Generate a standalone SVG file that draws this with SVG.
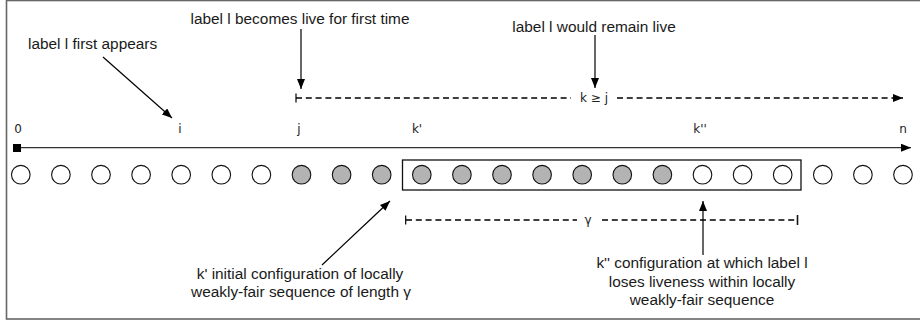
<svg xmlns="http://www.w3.org/2000/svg" width="920" height="325" viewBox="0 0 920 325">
<style>
.lbl{font-family:"Liberation Sans",Arial,sans-serif;font-size:15.4px;fill:#1a1a1a}
.tick{font-family:"DejaVu Sans",sans-serif;font-size:12px;fill:#222}
.w{fill:#fff;stroke:#111;stroke-width:1.1}
.g{fill:#b3b3b3;stroke:#111;stroke-width:1.1}
.ln{stroke:#000;stroke-width:1.2;fill:none}
.dash{stroke:#000;stroke-width:1.3;fill:none;stroke-dasharray:6 3.8}
</style>
<defs>
<marker id="ah" markerUnits="userSpaceOnUse" markerWidth="11" markerHeight="9" refX="10" refY="4" orient="auto">
<path d="M0,0 L10,4 L0,8 z" fill="#000"/>
</marker>
</defs>
<rect x="6.5" y="0.5" width="920" height="318.5" fill="#fff" stroke="#666" stroke-width="1.6"/>

<g id="axis">
<line x1="17" y1="147.7" x2="911" y2="147.7" stroke="#333" stroke-width="1.3" marker-end="url(#ah)"/>
<rect x="13" y="144" width="8" height="8" fill="#000"/>
</g>

<g id="tick-labels" class="tick" text-anchor="middle">
<text x="18" y="133">0</text>
<text x="180" y="133">i</text>
<text x="299" y="133">j</text>
<text x="417" y="133">k'</text>
<text x="700" y="133">k''</text>
<text x="903" y="133">n</text>
</g>

<g id="window"><rect x="402.5" y="160" width="398.5" height="30" fill="none" stroke="#111" stroke-width="1.3"/></g>

<g id="c0"><circle class="w" cx="20.8" cy="174.7" r="9.3"/></g>
<g id="c1"><circle class="w" cx="60.9" cy="174.7" r="9.3"/></g>
<g id="c2"><circle class="w" cx="101" cy="174.7" r="9.3"/></g>
<g id="c3"><circle class="w" cx="141.1" cy="174.7" r="9.3"/></g>
<g id="c4"><circle class="w" cx="181.2" cy="174.7" r="9.3"/></g>
<g id="c5"><circle class="w" cx="221.3" cy="174.7" r="9.3"/></g>
<g id="c6"><circle class="w" cx="261.4" cy="174.7" r="9.3"/></g>
<g id="c7"><circle class="g" cx="301.5" cy="174.7" r="9.3"/></g>
<g id="c8"><circle class="g" cx="341.6" cy="174.7" r="9.3"/></g>
<g id="c9"><circle class="g" cx="381.7" cy="174.7" r="9.3"/></g>
<g id="c10"><circle class="g" cx="421.8" cy="174.7" r="9.3"/></g>
<g id="c11"><circle class="g" cx="461.9" cy="174.7" r="9.3"/></g>
<g id="c12"><circle class="g" cx="502" cy="174.7" r="9.3"/></g>
<g id="c13"><circle class="g" cx="542.1" cy="174.7" r="9.3"/></g>
<g id="c14"><circle class="g" cx="582.2" cy="174.7" r="9.3"/></g>
<g id="c15"><circle class="g" cx="622.3" cy="174.7" r="9.3"/></g>
<g id="c16"><circle class="g" cx="662.4" cy="174.7" r="9.3"/></g>
<g id="c17"><circle class="w" cx="702.5" cy="174.7" r="9.3"/></g>
<g id="c18"><circle class="w" cx="742.6" cy="174.7" r="9.3"/></g>
<g id="c19"><circle class="w" cx="782.7" cy="174.7" r="9.3"/></g>
<g id="c20"><circle class="w" cx="822.8" cy="174.7" r="9.3"/></g>
<g id="c21"><circle class="w" cx="862.9" cy="174.7" r="9.3"/></g>
<g id="c22"><circle class="w" cx="903" cy="174.7" r="9.3"/></g>

<g id="label-first-appears"><text class="lbl" x="28" y="49">label l first appears</text></g>
<g id="label-becomes-live"><text class="lbl" x="300" y="24" text-anchor="middle">label l becomes live for first time</text></g>
<g id="label-remain-live"><text class="lbl" x="594" y="32" text-anchor="middle">label l would remain live</text></g>
<g id="label-kprime" class="lbl" text-anchor="middle">
<text x="300" y="279">k' initial configuration of locally</text>
<text x="301" y="297">weakly-fair sequence of length γ</text>
</g>
<g id="label-kdprime" class="lbl" text-anchor="middle">
<text x="702" y="268">k'' configuration at which label l</text>
<text x="702" y="287">loses liveness within locally</text>
<text x="702" y="305">weakly-fair sequence</text>
</g>
<g id="label-kgej"><text class="tick" x="594" y="102" text-anchor="middle">k ≥ j</text></g>
<g id="label-gamma"><text class="tick" x="588" y="224" text-anchor="middle">γ</text></g>

<g id="connectors">
<line class="ln" x1="103" y1="57" x2="172" y2="118" marker-end="url(#ah)"/>
<line class="ln" x1="301" y1="29" x2="301" y2="89" marker-end="url(#ah)"/>
<line class="ln" x1="595" y1="35" x2="595" y2="88" marker-end="url(#ah)"/>
<line class="ln" x1="322" y1="265" x2="390" y2="201" marker-end="url(#ah)"/>
<line class="ln" x1="703" y1="255" x2="703" y2="201" marker-end="url(#ah)"/>
<line class="ln" x1="296" y1="93.5" x2="296" y2="102.5"/>
<path class="dash" d="M296,98 H571"/>
<path class="dash" d="M617,98 H903" marker-end="url(#ah)"/>
<line class="ln" x1="405.7" y1="215.5" x2="405.7" y2="224.5"/>
<path class="dash" d="M406,220 H577"/>
<path class="dash" d="M602,220 H797"/>
<line x1="797.5" y1="215" x2="797.5" y2="225" stroke="#111" stroke-width="1.6"/>
</g>
</svg>
